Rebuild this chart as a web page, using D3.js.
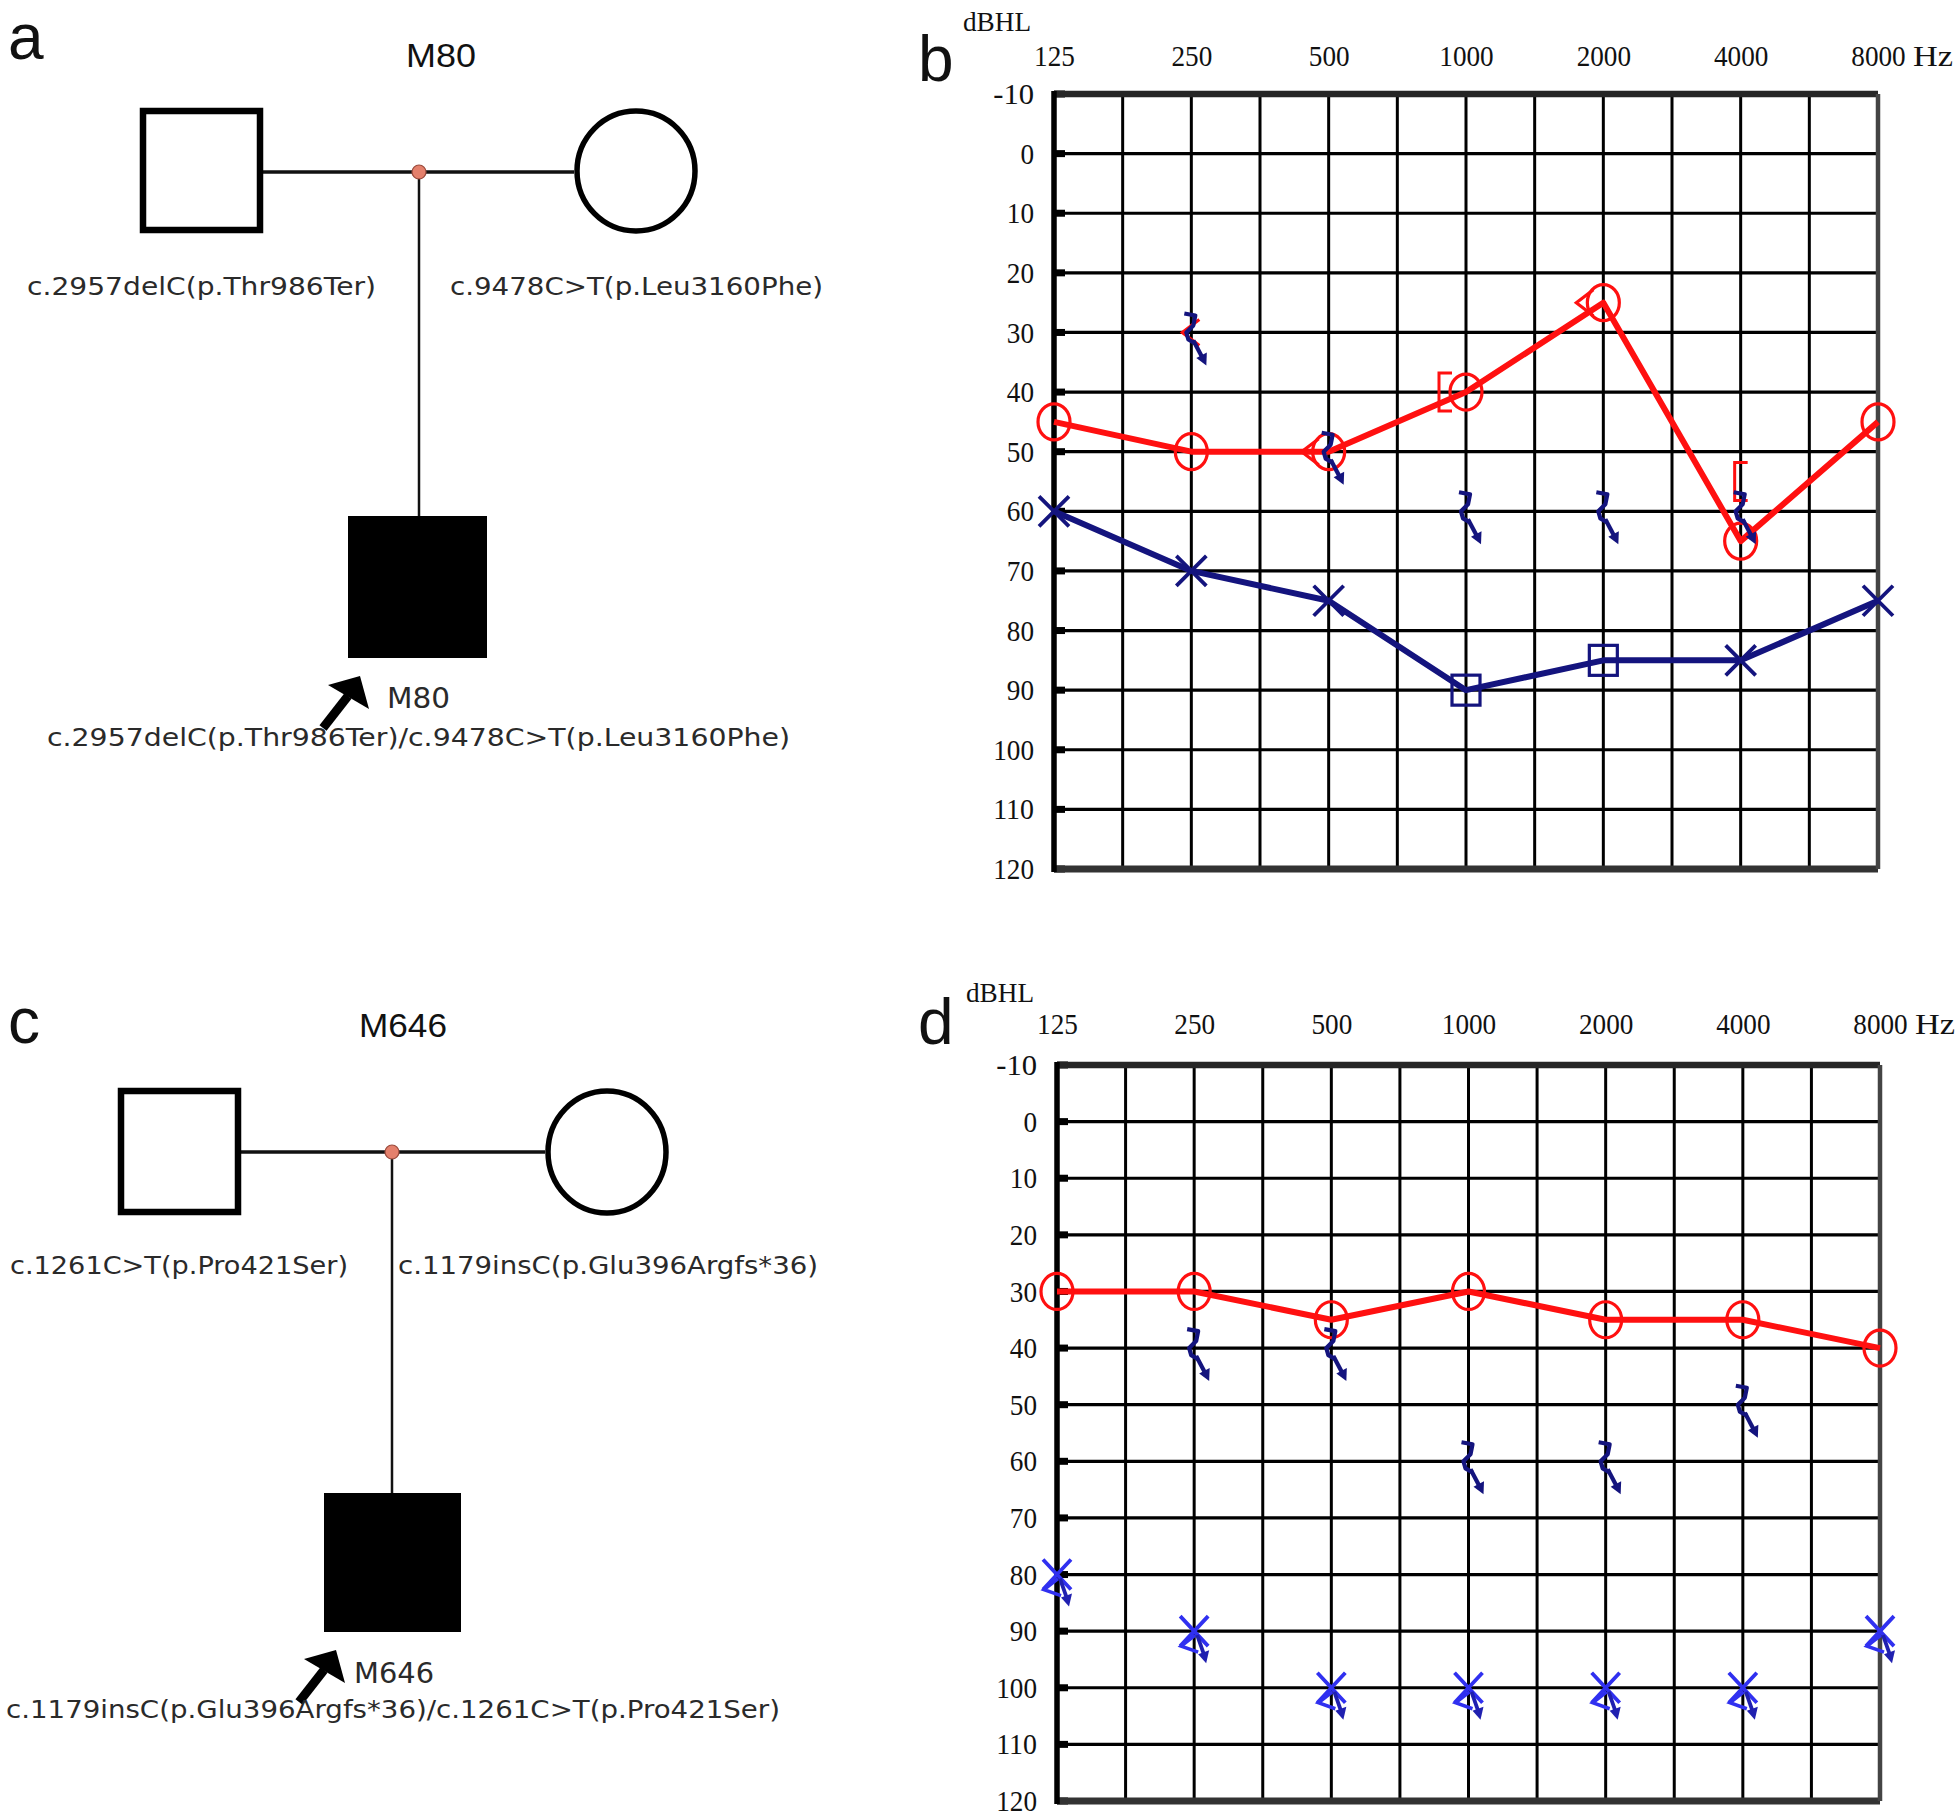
<!DOCTYPE html>
<html><head><meta charset="utf-8">
<script src="https://cdn.jsdelivr.net/npm/d3@7"></script>
<style>body{margin:0;background:#fff} svg{display:block}</style>
</head><body>
<svg id="fig" width="1960" height="1816"></svg>
<script>
// ---------- data ----------
const freqs = [125, 250, 500, 1000, 2000, 4000, 8000];
const freqLabels = ["125", "250", "500", "1000", "2000", "4000", "8000"];
const dbTicks = [-10, 0, 10, 20, 30, 40, 50, 60, 70, 80, 90, 100, 110, 120];
const dbLabels = ["-10", "0", "10", "20", "30", "40", "50", "60", "70", "80", "90", "100", "110", "120"];

// panel b (M80)
const bRightAir = [45, 50, 50, 40, 25, 65, 45];
const bLeftAir = [60, 70, 75, 90, 85, 85, 75];
const bLeftAirSymbol = ["x", "x", "x", "square", "square", "x", "x"];
const bRightBoneFreqs = [250, 500, 2000];
const bRightBoneValues = [30, 50, 25];
const bRightBoneMaskedFreqs = [1000, 4000];
const bRightBoneMaskedValues = [40, 55];
const bLeftBoneFreqs = [250, 500, 1000, 2000, 4000];
const bLeftBoneValues = [30, 50, 60, 60, 60];

// panel d (M646)
const dRightAir = [30, 30, 35, 30, 35, 35, 40];
const dLeftAirNoResponse = [80, 90, 100, 100, 100, 100, 90];
const dLeftBoneFreqs = [250, 500, 1000, 2000, 4000];
const dLeftBoneValues = [40, 40, 60, 60, 50];

// pedigrees
const panelLetters = ["a", "b", "c", "d"];
const familyIds = ["M80", "M646"];
const fatherVariants = ["c.2957delC(p.Thr986Ter)", "c.1261C>T(p.Pro421Ser)"];
const motherVariants = ["c.9478C>T(p.Leu3160Phe)", "c.1179insC(p.Glu396Argfs*36)"];
const probandGenotypes = ["c.2957delC(p.Thr986Ter)/c.9478C>T(p.Leu3160Phe)",
                          "c.1179insC(p.Glu396Argfs*36)/c.1261C>T(p.Pro421Ser)"];

// ---------- drawing ----------
const svg = d3.select("#fig");
const RED = "#ff1010", NAVY = "#14147e", BRIGHT = "#3030f0";

// panel letters
const letterPos = [[8, 59], [918, 81], [8, 1043], [918, 1044]];
svg.selectAll("text.letter").data(panelLetters).join("text")
  .attr("class", "letter")
  .attr("x", (d, i) => letterPos[i][0]).attr("y", (d, i) => letterPos[i][1])
  .attr("font-family", "Liberation Sans, Arial, sans-serif").attr("font-size", 64)
  .attr("fill", "#111").text(d => d);

// ---- pedigree ----
function pedigree(i, L) {
  const g = svg.append("g");
  const sans = "DejaVu Sans, Verdana, sans-serif";
  g.append("text").attr("x", L.titleX).attr("y", L.titleY).attr("text-anchor", "middle")
    .attr("font-family", "Liberation Sans, Arial, sans-serif").attr("font-size", 33)
    .attr("textLength", L.titleW).attr("lengthAdjust", "spacingAndGlyphs")
    .attr("fill", "#111").text(familyIds[i]);
  g.append("line").attr("x1", L.sq[0] + L.sq[2]).attr("x2", L.circ[0] - L.circ[2])
    .attr("y1", L.lineY).attr("y2", L.lineY).attr("stroke", "#111").attr("stroke-width", 3.5);
  g.append("line").attr("x1", L.dotX).attr("x2", L.dotX).attr("y1", L.lineY).attr("y2", L.child[1])
    .attr("stroke", "#111").attr("stroke-width", 2.5);
  g.append("rect").attr("x", L.sq[0] + 3).attr("y", L.sq[1] + 3)
    .attr("width", L.sq[2] - 6).attr("height", L.sq[3] - 6)
    .attr("fill", "#fff").attr("stroke", "#000").attr("stroke-width", 6.5);
  g.append("ellipse").attr("cx", L.circ[0]).attr("cy", L.circ[1])
    .attr("rx", L.circ[2] - 3).attr("ry", L.circ[3] - 3)
    .attr("fill", "#fff").attr("stroke", "#000").attr("stroke-width", 5.5);
  g.append("circle").attr("cx", L.dotX).attr("cy", L.lineY).attr("r", 7)
    .attr("fill", "#e4806c").attr("stroke", "#9a4a3c").attr("stroke-width", 1.2);
  g.append("rect").attr("x", L.child[0]).attr("y", L.child[1])
    .attr("width", L.child[2]).attr("height", L.child[3]).attr("fill", "#000");
  const tx = L.child[0] + 12, ty = L.child[1] + L.child[3] + 18;
  g.append("path")
    .attr("d", `M${tx},${ty} L${tx - 32},${ty + 9} L${tx + 9},${ty + 33} Z`).attr("fill", "#000");
  g.append("line").attr("x1", tx - 12).attr("y1", ty + 20).attr("x2", tx - 37).attr("y2", ty + 52)
    .attr("stroke", "#000").attr("stroke-width", 9);
  const lab = (x, y, w, t) => g.append("text").attr("x", x).attr("y", y)
    .attr("font-family", sans).attr("font-size", 25).attr("fill", "#2a2a2a")
    .attr("textLength", w).attr("lengthAdjust", "spacingAndGlyphs").text(t);
  lab(L.fLab[0], L.fLab[1], L.fLab[2], fatherVariants[i]);
  lab(L.mLab[0], L.mLab[1], L.mLab[2], motherVariants[i]);
  lab(L.pId[0], L.pId[1], L.pId[2], familyIds[i]).attr("font-size", 28);
  lab(L.gen[0], L.gen[1], L.gen[2], probandGenotypes[i]);
}

pedigree(0, {
  titleX: 441, titleY: 67, titleW: 70,
  sq: [140, 108, 123, 125], circ: [636, 171, 62, 63], lineY: 172, dotX: 419,
  child: [348, 516, 139, 142],
  fLab: [27, 295, 349], mLab: [450, 295, 373], pId: [387, 708, 63], gen: [47, 746, 743]
});
pedigree(1, {
  titleX: 403, titleY: 1037, titleW: 88,
  sq: [118, 1088, 123, 127], circ: [607, 1152, 62, 64], lineY: 1152, dotX: 392,
  child: [324, 1493, 137, 139],
  fLab: [10, 1274, 338], mLab: [398, 1274, 420], pId: [354, 1683, 80], gen: [6, 1718, 774]
});

// ---- audiogram ----
function audiogram(cfg) {
  const g = svg.append("g");
  const x = d3.scaleLog().base(2).domain([125, 8000]).range([cfg.left, cfg.right]);
  const y = d3.scaleLinear().domain([-10, 120]).range([cfg.top, cfg.bottom]);
  const half = d3.range(13).map(k => 125 * Math.pow(2, k / 2));

  g.append("g").selectAll("line").data(half).join("line")
    .attr("x1", d => x(d)).attr("x2", d => x(d)).attr("y1", cfg.top).attr("y2", cfg.bottom)
    .attr("stroke", "#000").attr("stroke-width", 3);
  g.append("g").selectAll("line").data(dbTicks).join("line")
    .attr("x1", cfg.left).attr("x2", cfg.right).attr("y1", d => y(d)).attr("y2", d => y(d))
    .attr("stroke", "#000").attr("stroke-width", 3.2);
  g.append("g").selectAll("rect").data(dbTicks).join("rect")
    .attr("x", cfg.left).attr("y", d => y(d) - 3.5).attr("width", 11).attr("height", 7).attr("fill", "#000");
  g.append("line").attr("x1", cfg.left).attr("x2", cfg.right).attr("y1", cfg.top).attr("y2", cfg.top)
    .attr("stroke", "#262626").attr("stroke-width", 6.5);
  g.append("line").attr("x1", cfg.left).attr("x2", cfg.right).attr("y1", cfg.bottom).attr("y2", cfg.bottom)
    .attr("stroke", "#333").attr("stroke-width", 7);
  g.append("line").attr("x1", cfg.right).attr("x2", cfg.right).attr("y1", cfg.top).attr("y2", cfg.bottom)
    .attr("stroke", "#444").attr("stroke-width", 4.5);
  g.append("line").attr("x1", cfg.left).attr("x2", cfg.left).attr("y1", cfg.top - 3).attr("y2", cfg.bottom + 3)
    .attr("stroke", "#000").attr("stroke-width", 5.5);

  const serif = "Liberation Serif, Times New Roman, serif";
  const ya = d3.axisLeft(y).tickValues(dbTicks).tickFormat((d, i) => dbLabels[i]).tickSize(0).tickPadding(20);
  const yg = g.append("g").attr("transform", `translate(${cfg.left},0)`).call(ya);
  yg.select(".domain").remove();
  yg.selectAll("text").attr("font-family", serif).attr("font-size", 30).attr("fill", "#111")
    .attr("textLength", d => dbLabels[dbTicks.indexOf(d)].length * 13.6)
    .attr("lengthAdjust", "spacingAndGlyphs");

  const xa = d3.axisTop(x).tickValues(freqs).tickFormat((d, i) => freqLabels[i]).tickSize(0).tickPadding(cfg.labelGap);
  const xg = g.append("g").attr("transform", `translate(0,${cfg.top})`).call(xa);
  xg.select(".domain").remove();
  xg.selectAll("text").attr("font-family", serif).attr("font-size", 30).attr("fill", "#111")
    .attr("textLength", d => freqLabels[freqs.indexOf(d)].length * 13.6)
    .attr("lengthAdjust", "spacingAndGlyphs");
  g.append("text").attr("x", cfg.right + 35).attr("y", cfg.top - cfg.labelGap)
    .attr("font-family", serif).attr("font-size", 30).attr("fill", "#111")
    .attr("textLength", 40).attr("lengthAdjust", "spacingAndGlyphs").text("Hz");
  g.append("text").attr("x", cfg.left - 91).attr("y", cfg.top - 63)
    .attr("font-family", serif).attr("font-size", 28).attr("fill", "#111")
    .attr("textLength", 68).attr("lengthAdjust", "spacingAndGlyphs").text("dBHL");

  return { g, x, y };
}

function circles(A, vals) {
  A.g.append("path").datum(vals)
    .attr("d", d3.line().x((d, i) => A.x(freqs[i])).y(d => A.y(d)))
    .attr("fill", "none").attr("stroke", RED).attr("stroke-width", 6).attr("stroke-linejoin", "round");
  A.g.append("g").selectAll("ellipse").data(vals).join("ellipse")
    .attr("cx", (d, i) => A.x(freqs[i])).attr("cy", d => A.y(d)).attr("rx", 16).attr("ry", 18)
    .attr("fill", "none").attr("stroke", RED).attr("stroke-width", 3.2);
}
function boneLeftGlyph(A, fs, vs) {
  const gg = A.g.append("g").selectAll("g").data(fs).join("g")
    .attr("transform", (d, i) => `translate(${A.x(d)},${A.y(vs[i])})`);
  gg.append("path").attr("d", "M-7,-19 L4,-17 L2,-7 L-5,0 L-3,7 L4,11")
    .attr("fill", "none").attr("stroke", NAVY).attr("stroke-width", 4.2).attr("stroke-linejoin", "round");
  gg.append("path").attr("d", "M2,8 L11,25").attr("stroke", NAVY).attr("stroke-width", 4.2);
  gg.append("path").attr("d", "M15,33 L5,25.5 L15.5,20 Z").attr("fill", NAVY);
}

// panel b
const B = audiogram({ left: 1054, right: 1878, top: 94, bottom: 869, labelGap: 28 });
B.g.append("path").datum(bLeftAir)
  .attr("d", d3.line().x((d, i) => B.x(freqs[i])).y(d => B.y(d)))
  .attr("fill", "none").attr("stroke", NAVY).attr("stroke-width", 6).attr("stroke-linejoin", "round");
const bl = B.g.append("g").selectAll("g").data(bLeftAir).join("g")
  .attr("transform", (d, i) => `translate(${B.x(freqs[i])},${B.y(d)})`);
bl.filter((d, i) => bLeftAirSymbol[i] === "x").append("path")
  .attr("d", "M-15,-15 L15,15 M-15,15 L15,-15").attr("stroke", NAVY).attr("stroke-width", 3.8);
bl.filter((d, i) => bLeftAirSymbol[i] === "square").append("rect")
  .attr("x", -14).attr("y", -15).attr("width", 28).attr("height", 30)
  .attr("fill", "none").attr("stroke", NAVY).attr("stroke-width", 3.2);
circles(B, bRightAir);
const shiftIf = (f, v) => bRightAir[freqs.indexOf(f)] === v ? -18 : 0;
B.g.append("g").selectAll("path").data(bRightBoneFreqs).join("path")
  .attr("transform", (d, i) => `translate(${B.x(d) + shiftIf(d, bRightBoneValues[i])},${B.y(bRightBoneValues[i])})`)
  .attr("d", "M8,-13 L-9,0 L8,13").attr("fill", "none").attr("stroke", RED).attr("stroke-width", 3.2);
B.g.append("g").selectAll("path").data(bRightBoneMaskedFreqs).join("path")
  .attr("transform", (d, i) => `translate(${B.x(d) + (shiftIf(d, bRightBoneMaskedValues[i]) ? -21 : 0)},${B.y(bRightBoneMaskedValues[i])})`)
  .attr("d", "M7,-19 L-6,-19 L-6,19 L7,19").attr("fill", "none").attr("stroke", RED).attr("stroke-width", 3);
boneLeftGlyph(B, bLeftBoneFreqs, bLeftBoneValues);

// panel d
const D = audiogram({ left: 1057, right: 1880, top: 1065, bottom: 1801, labelGap: 31 });
circles(D, dRightAir);
boneLeftGlyph(D, dLeftBoneFreqs, dLeftBoneValues);
const nr = D.g.append("g").selectAll("g").data(dLeftAirNoResponse).join("g")
  .attr("transform", (d, i) => `translate(${D.x(freqs[i])},${D.y(d)})`);
nr.append("path").attr("d", "M-14,-15 L14,15 M-14,15 L14,-15")
  .attr("stroke", BRIGHT).attr("stroke-width", 3.8);
nr.append("path").attr("d", "M1,4 L-13,15 L4,21").attr("fill", "none")
  .attr("stroke", BRIGHT).attr("stroke-width", 3.5);
nr.append("path").attr("d", "M3,4 L10,24").attr("stroke", "#2020b0").attr("stroke-width", 3.8);
nr.append("path").attr("d", "M12,32 L4,23 L15,19 Z").attr("fill", "#2020b0");
</script>
</body></html>
